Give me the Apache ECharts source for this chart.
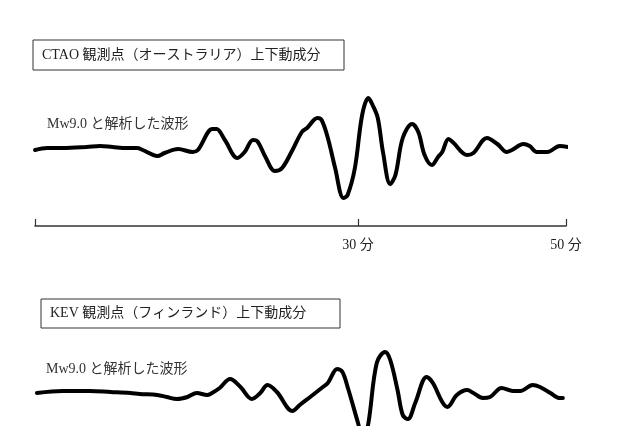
<!DOCTYPE html>
<html>
<head>
<meta charset="utf-8">
<script src="https://cdn.jsdelivr.net/npm/echarts@6/dist/echarts.min.js"></script>
<style>
html,body{margin:0;padding:0;background:#fff;}
#chart{width:639px;height:426px;}
</style>
</head>
<body>
<div id="chart"></div>
<script>
// Time in minutes, amplitude in arbitrary units
const ctaoTime = [-1.05,0.1,1.6,3.9,5.2,6.4,7.8,8.75,9.3,10.7,11.4,12.7,14.1,14.6,16.0,16.4,17.2,18.4,19.1,19.9,20.3,21.1,22.0,22.7,23.7,24.6,25.1,26.1,26.5,27.1,27.8,28.6,29.0,29.7,30.4,31.0,31.4,31.9,32.4,33.1,33.6,34.3,35.2,35.8,36.4,37.1,37.7,38.1,38.7,39.1,40.5,41.1,42.4,43.4,44.3,44.8,45.9,46.5,47.2,48.2,49.4,50.2];
const ctaoAmp  = [0,2,2,3,4,3,2,2,0,-6,-3,1,-2,0,21,21,10,-8,-2,10,9,-7,-21,-18,0,18,22,32,30,12,-18,-48,-45,-18,35,52,45,32,-2,-34,-25,12,26,18,-5,-15,-7,-2,11,8,-5,-3,12,6,-2,0,6,4,-2,-2,4,3];

const kevTime = [-0.87,1.6,4.2,6.2,8.1,9.0,10.7,11.6,12.6,13.6,14.5,15.5,15.8,16.7,17.7,18.7,19.8,20.6,21.3,22.2,23.7,24.4,25.4,26.5,27.1,28.0,28.5,29.0,30.0,30.5,31.0,31.8,32.6,33.1,33.8,34.3,34.8,35.5,36.6,37.2,38.1,38.6,39.5,40.5,41.1,42.0,42.7,43.8,44.9,45.6,46.8,47.5,48.5,49.4,49.7];
const kevAmp  = [0,2,2,1,0,-1,-2,-4,-6,-4,0,-2,-1,5,14,6,-6,0,8,1,-18,-12,-4,5,10,24,21,6,-30,-48,-30,30,41,33,3,-22,-26,-10,16,10,-9,-14,-2,3,0,-5,-4,5,2,2,8,6,0,-5,-5];

const axisTicks = [-1.06, 30, 50];
const axisLabels = [30, 50];
const unitLabel = '分';

const titleTop = 'CTAO 観測点（オーストラリア）上下動成分';
const titleBottom = 'KEV 観測点（フィンランド）上下動成分';
const noteText = 'Mw9.0 と解析した波形';

const zip = (a, b) => a.map((v, i) => [v, b[i]]);
const fontFam = '"Liberation Serif", "DejaVu Serif", "Noto Sans CJK JP", serif';

const chart = echarts.init(document.getElementById('chart'), null, {renderer: 'canvas'});
chart.setOption({
  backgroundColor: '#fff',
  animation: false,
  grid: [
    {left: 35, width: 531, top: 90, height: 136, outerBoundsMode: 'none'},
    {left: 35, width: 531, top: 333, height: 93, outerBoundsMode: 'none'}
  ],
  xAxis: [
    {
      gridIndex: 0, type: 'value', min: -1.06, max: 50,
      axisLine: {show: true, onZero: false, lineStyle: {color: '#333', width: 1.5}},
      axisTick: {show: true, inside: true, length: 7, customValues: axisTicks, lineStyle: {color: '#333', width: 1.2}},
      axisLabel: {show: true, customValues: axisLabels, margin: 12, color: '#222', fontSize: 14, fontFamily: fontFam,
        formatter: v => v + ' ' + unitLabel},
      splitLine: {show: false}
    },
    {
      gridIndex: 1, type: 'value', min: -1.06, max: 50, show: false,
      splitLine: {show: false}
    }
  ],
  yAxis: [
    {gridIndex: 0, type: 'value', min: -76, max: 60, show: false, splitLine: {show: false}},
    {gridIndex: 1, type: 'value', min: -33, max: 60, show: false, splitLine: {show: false}}
  ],
  series: [
    {
      type: 'line', xAxisIndex: 0, yAxisIndex: 0, data: zip(ctaoTime, ctaoAmp),
      smooth: 0.35, showSymbol: false, clip: false,
      lineStyle: {color: '#000', width: 4, join: 'round', cap: 'round'}
    },
    {
      type: 'line', xAxisIndex: 1, yAxisIndex: 1, data: zip(kevTime, kevAmp),
      smooth: 0.35, showSymbol: false, clip: false,
      lineStyle: {color: '#000', width: 4, join: 'round', cap: 'round'}
    }
  ],
  graphic: [
    {type: 'rect', shape: {x: 33, y: 40, width: 311, height: 30},
      style: {fill: '#fff', stroke: '#333', lineWidth: 1}},
    {type: 'text', x: 42, y: 55, style: {text: titleTop, fill: '#222', font: '14px ' + fontFam, verticalAlign: 'middle'}},
    {type: 'text', x: 47, y: 124, style: {text: noteText, fill: '#333', font: '14px ' + fontFam, verticalAlign: 'middle'}},
    {type: 'rect', shape: {x: 41, y: 299, width: 299, height: 29},
      style: {fill: '#fff', stroke: '#333', lineWidth: 1}},
    {type: 'text', x: 50, y: 313, style: {text: titleBottom, fill: '#222', font: '14px ' + fontFam, verticalAlign: 'middle'}},
    {type: 'text', x: 46, y: 369, style: {text: noteText, fill: '#333', font: '14px ' + fontFam, verticalAlign: 'middle'}}
  ]
});
</script>
</body>
</html>
